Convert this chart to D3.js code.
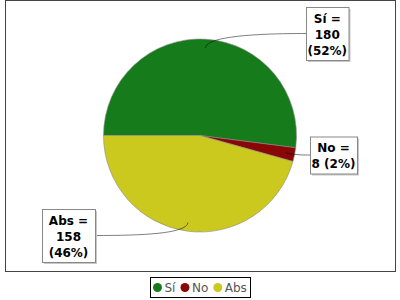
<!DOCTYPE html>
<html><head><meta charset="utf-8">
<script src="https://cdn.jsdelivr.net/npm/d3@7"></script>
<style>body{margin:0;background:#fff}svg{display:block}</style>
</head><body>
<svg id="c" width="400" height="300"></svg>
<script>
const categories = ["Sí", "No", "Abs"];
const values = [180, 8, 158];
const colors = ["#167b1b", "#8a0707", "#cbc91d"];

// layout (annotation placement)
const W = 400, H = 300;
const cx = 200, cy = 135.5, R = 96.5;
const labelLayout = [
  {side: "right", x: 306, y: 33.5, w: 42.5},
  {side: "right", x: 310, y: 155, w: 47},
  {side: "left",  x: 95,  y: 235.5, w: 53}
];

const svg = d3.select("#c");
// plot border
svg.append("rect").attr("x", 5.5).attr("y", 0.5).attr("width", 390).attr("height", 271)
  .attr("fill", "#fff").attr("stroke", "#444").attr("stroke-width", 1);

const total = d3.sum(values);
const data = categories.map((c, i) => ({cat: c, value: values[i], color: colors[i]}));
const pie = d3.pie().value(d => d.value).sort(null)
  .startAngle(-Math.PI / 2).endAngle(3 * Math.PI / 2);
const arcs = pie(data);
const arc = d3.arc().innerRadius(0).outerRadius(R);

const g = svg.append("g").attr("transform", `translate(${cx},${cy})`);
g.selectAll("path").data(arcs).join("path")
  .attr("d", arc).attr("fill", d => d.data.color)
  .attr("stroke", "#8a8a8a").attr("stroke-width", 0.6);

function polar(a, r) { return [cx + r * Math.sin(a), cy - r * Math.cos(a)]; }

const fmtPct = v => Math.round(v / total * 100);

arcs.forEach((d, i) => {
  const L = labelLayout[i];
  const mid = (d.startAngle + d.endAngle) / 2;
  const s = polar(mid, R * 0.91);
  const c1 = polar(mid, R * 1.03);
  const end = [L.x, L.y];
  const c2 = [end[0] - (end[0] - c1[0]) * 0.5, end[1]];
  svg.append("path")
    .attr("d", `M${s[0]},${s[1]}C${c1[0]},${c1[1]} ${c2[0]},${c2[1]} ${end[0]},${end[1]}`)
    .attr("fill", "none").attr("stroke", "#000").attr("stroke-opacity", 0.5).attr("stroke-width", 1);

  const second = `${d.data.value} (${fmtPct(d.data.value)}%)`;
  const lines = [`${d.data.cat} =`];
  if (second.length > 6) { lines.push(`${d.data.value}`, `(${fmtPct(d.data.value)}%)`); }
  else lines.push(second);
  const h = lines.length * 16 + 5;
  const bx = L.side === "right" ? L.x : L.x - L.w;
  const by = L.y - h / 2;
  const lg = svg.append("g");
  lg.append("rect").attr("x", bx + 2).attr("y", by + 2).attr("width", L.w).attr("height", h)
    .attr("fill", "#c8c8c8");
  lg.append("rect").attr("x", bx + 0.5).attr("y", by + 0.5).attr("width", L.w).attr("height", h)
    .attr("fill", "#fff").attr("stroke", "#888").attr("stroke-width", 1);
  lines.forEach((t, k) => {
    lg.append("text").attr("x", bx + L.w / 2).attr("y", by + 15.5 + k * 16)
      .attr("text-anchor", "middle")
      .attr("font-family", "DejaVu Sans").attr("font-weight", "bold").attr("font-size", 12)
      .attr("fill", "#000").text(t);
  });
});

// legend
const leg = svg.append("g");
const items = leg.selectAll("g").data(data).join("g");
let xpos = 0;
const rC = 4.5;
items.each(function(d) {
  const it = d3.select(this);
  it.append("circle").attr("cx", xpos + rC).attr("cy", 0).attr("r", rC).attr("fill", d.color);
  const t = it.append("text").attr("x", xpos + 2 * rC + 2.5).attr("y", 4.3)
    .attr("font-family", "DejaVu Sans").attr("font-size", 12).attr("fill", "#555").text(d.cat);
  const tw = t.node().getComputedTextLength();
  xpos += 2 * rC + 2.5 + tw + 5;
});
const contentW = xpos - 5;
const boxW = contentW + 6;
const lx = 200 - boxW / 2;
leg.insert("rect", ":first-child").attr("x", Math.round(lx) + 0.5).attr("y", 277.5)
  .attr("width", Math.round(boxW)).attr("height", 20)
  .attr("fill", "#fff").attr("stroke", "#000").attr("stroke-width", 1);
items.attr("transform", `translate(${Math.round(lx) + 3},287.5)`);
</script>
</body></html>
